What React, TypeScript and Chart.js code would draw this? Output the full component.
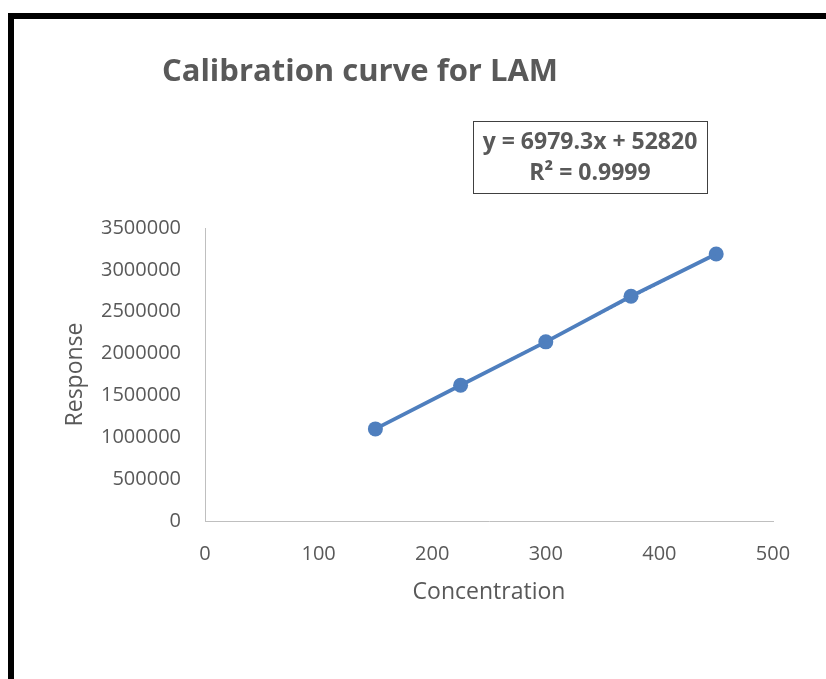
import React, { useEffect, useRef } from "react";
import { Chart, registerables } from "chart.js";

Chart.register(...registerables);

const concentrations = [150, 225, 300, 375, 450];
const responses = [1100000, 1622000, 2140000, 2685000, 3190000];
const trendX = [150, 450];
const trendY = [1099700, 3193500];
const chartTitle = "Calibration curve for LAM";
const equationLines = ["y = 6979.3x + 52820", "R² = 0.9999"];
const xTitle = "Concentration";
const yTitle = "Response";

const FONT = "'Open Sans', 'Noto Sans', sans-serif";
const TEXT = "#595959";
const BLUE = "#4f7fbe";

const decorPlugin = {
  id: "decor",
  afterDraw(chart: any) {
    const ctx = chart.ctx;
    ctx.save();
    // frame
    ctx.fillStyle = "#000";
    ctx.fillRect(8, 13, 826, 6);
    ctx.fillRect(8, 13, 6, 679);
    // title
    ctx.fillStyle = TEXT;
    ctx.font = `bold 31px ${FONT}`;
    ctx.textAlign = "center";
    ctx.textBaseline = "middle";
    ctx.fillText(chartTitle, 360, 72);
    // equation box
    ctx.strokeStyle = "#404040";
    ctx.lineWidth = 1;
    ctx.strokeRect(473.5, 121.5, 234, 72);
    ctx.font = `bold 23px ${FONT}`;
    ctx.fillText(equationLines[0], 590, 142);
    ctx.fillText(equationLines[1], 590, 173);
    ctx.restore();
  },
};

export default function App() {
  const ref = useRef<HTMLCanvasElement>(null);
  useEffect(() => {
    const chart = new Chart(ref.current!, {
      type: "scatter",
      data: {
        datasets: [
          {
            data: trendX.map((x, i) => ({ x, y: trendY[i] })),
            showLine: true,
            borderColor: BLUE,
            borderWidth: 2,
            borderDash: [2, 2],
            pointRadius: 0,
          },
          {
            data: concentrations.map((x, i) => ({ x, y: responses[i] })),
            showLine: true,
            borderColor: BLUE,
            backgroundColor: BLUE,
            borderWidth: 3.75,
            pointRadius: 7.5,
            pointBorderWidth: 0,
          },
        ],
      },
      options: {
        animation: false,
        responsive: false,
        layout: { padding: { left: 0, top: 228, right: 53, bottom: 58 } },
        plugins: { legend: { display: false }, tooltip: { enabled: false } },
        scales: {
          x: {
            type: "linear",
            min: 0,
            max: 500,
            afterFit: (s: any) => { s.height = 100; },
            grid: { display: false, drawTicks: false },
            border: { display: true, color: "#bfbfbf", width: 1 },
            ticks: { stepSize: 100, color: TEXT, font: { family: FONT, size: 20 }, padding: 21, callback: (v: any) => String(v) },
            title: { display: true, text: xTitle, color: TEXT, font: { family: FONT, size: 23 }, padding: { top: 0, bottom: 15 } },
          },
          y: {
            type: "linear",
            min: 0,
            max: 3500000,
            afterFit: (s: any) => { s.width = 205; },
            grid: { display: false, drawTicks: false },
            border: { display: true, color: "#bfbfbf", width: 1 },
            ticks: { stepSize: 500000, color: TEXT, font: { family: FONT, size: 20 }, padding: 24, callback: (v: any) => String(v) },
            title: { display: true, text: yTitle, color: TEXT, font: { family: FONT, size: 23 }, padding: { top: 62, bottom: 0 } },
          },
        },
      },
      plugins: [decorPlugin],
    });
    return () => chart.destroy();
  }, []);
  return (
    <div style={{ position: "absolute", left: 0, top: 0, width: 826, height: 679, background: "#fff" }}>
      <canvas ref={ref} width={826} height={679} style={{ width: 826, height: 679, display: "block" }} />
    </div>
  );
}
